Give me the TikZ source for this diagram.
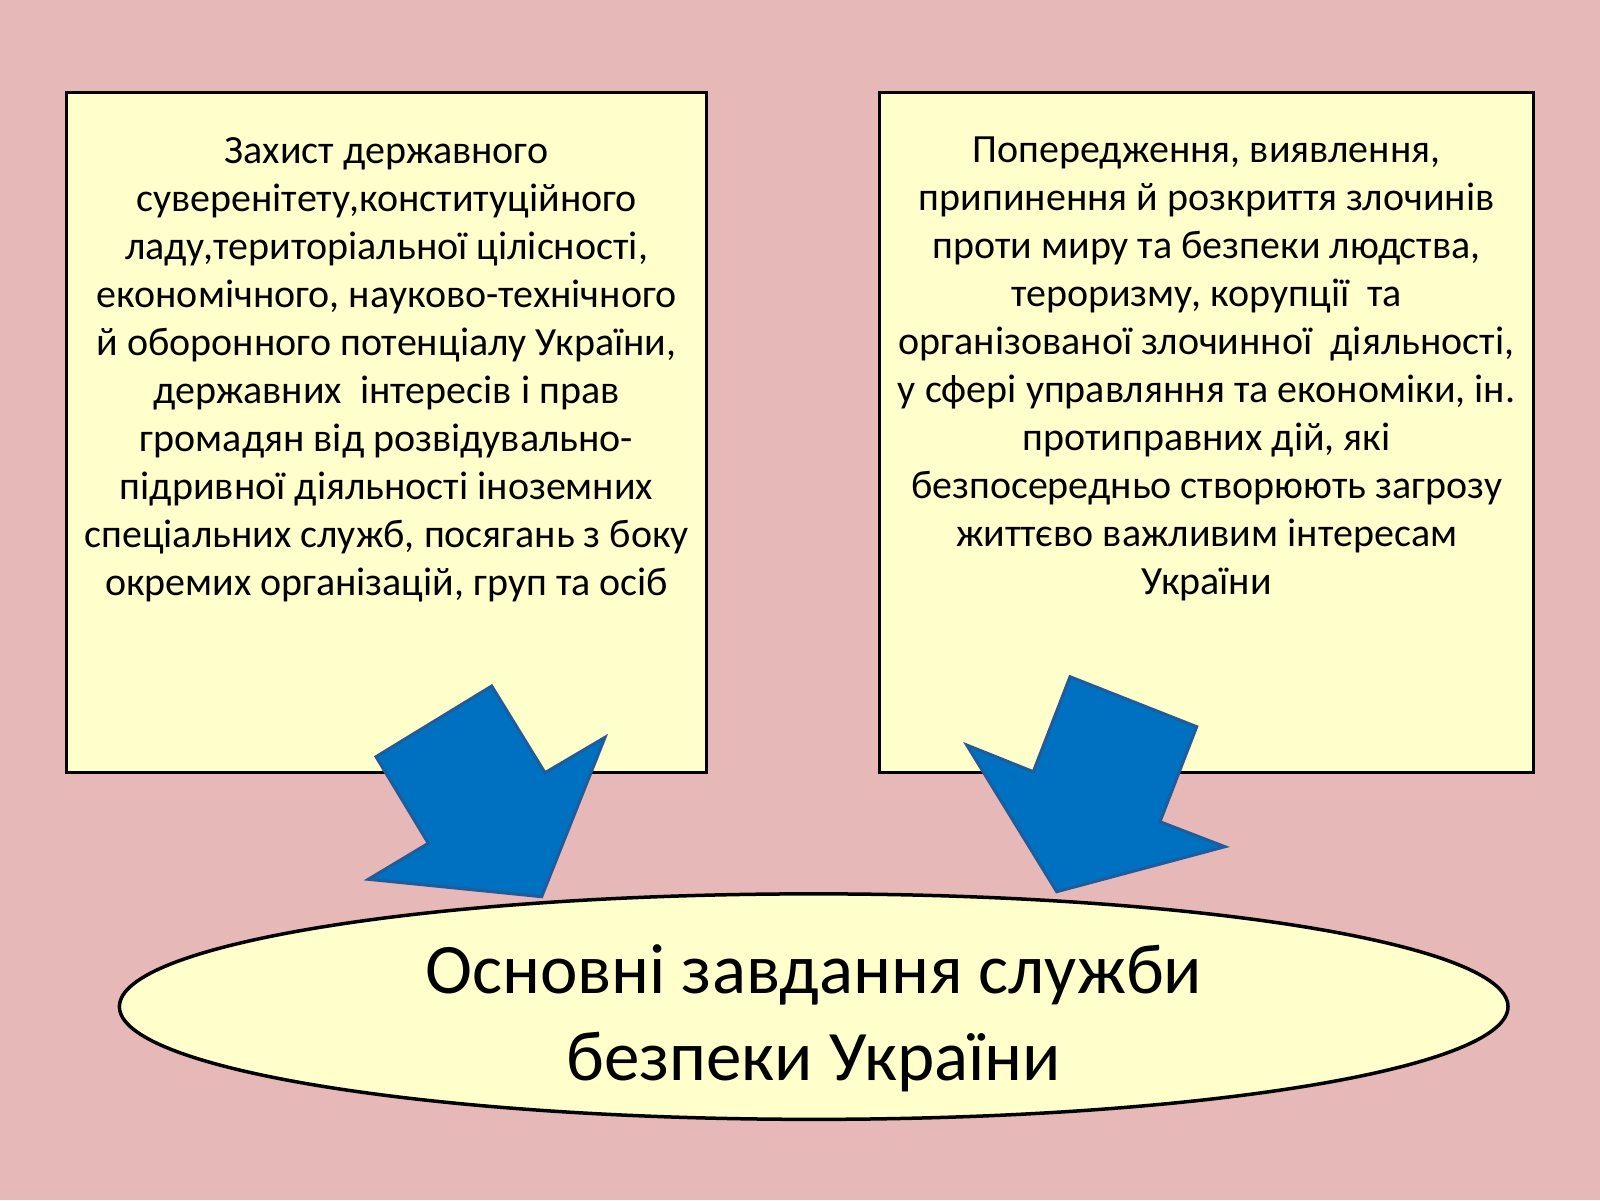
\documentclass[tikz,border=0pt]{standalone}
\usepackage{fontspec}
\setmainfont{Carlito}
\usetikzlibrary{shapes.geometric}
\definecolor{bgpink}{HTML}{E6B9B8}
\definecolor{boxyellow}{HTML}{FFFFCC}
\definecolor{arrowblue}{HTML}{0070C0}
\definecolor{arrowedge}{HTML}{1F5C99}
\tikzset{
  taskbox/.style={draw=black, line width=3pt, fill=boxyellow, rectangle, inner sep=0pt},
  tasktext/.style={align=center, inner sep=0pt, anchor=north, font=\fontsize{40}{48}\selectfont},
  titleoval/.style={draw=black, line width=3.5pt, fill=boxyellow, ellipse, inner sep=0pt},
  titletext/.style={align=center, inner sep=0pt, anchor=north, font=\fontsize{71}{87}\selectfont},
  blockarrow/.style={fill=arrowblue, draw=arrowedge, line width=3pt, line join=miter}
}
\begin{document}
\begin{tikzpicture}[x=1pt,y=-1pt]
\fill[bgpink] (0,0) rectangle (1600,1200);
\useasboundingbox (0,0) rectangle (1600,1200);

\node[taskbox, minimum width=640.7pt, minimum height=679.6pt] (lbox) at (386.6,432.7) {};
\node[taskbox, minimum width=654.1pt, minimum height=679.6pt] (rbox) at (1206.6,432.7) {};

\node[tasktext] (ltext) at (386.6,137) {Захист державного\\
суверенітету,конституційного\\
ладу,територіальної цілісності,\\
економічного, науково-технічного\\
й оборонного потенціалу України,\\
державних\ \ інтересів і прав\\
громадян від розвідувально-\\
підривної діяльності іноземних\\
спеціальних служб, посягань з боку\\
окремих організацій, груп та осіб};

\node[tasktext] (rtext) at (1206.6,137) {Попередження, виявлення,\\
припинення й розкриття злочинів\\
проти миру та безпеки людства,\\
тероризму, корупції\ \ та\\
організованої злочинної\ \ діяльності,\\
у сфері управляння та економіки, ін.\\
протиправних дій, які\\
безпосередньо створюють загрозу\\
життєво важливим інтересам\\
України};

\draw[blockarrow] (491.7,686) -- (376,756.7) -- (428.3,843.3) -- (368.3,879.3) -- (541.7,896.7) -- (605,737.3) -- (545,772.7) -- cycle;
\draw[blockarrow] (1070,676.7) -- (1196.7,726.7) -- (1160,821.7) -- (1225,846.7) -- (1056.7,891.7) -- (966.7,745) -- (1033.3,771.7) -- cycle;

\node[titleoval, minimum width=1388.6pt, minimum height=225.5pt] (oval) at (813.7,1006.6) {};
\node[titletext] (otext) at (813.7,944) {Основні завдання служби\\безпеки України};
\end{tikzpicture}
\end{document}
